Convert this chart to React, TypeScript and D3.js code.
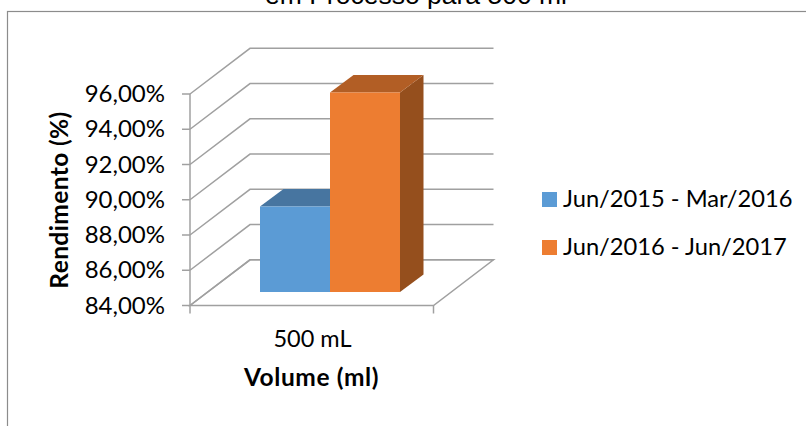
import React from "react";
import * as d3 from "d3";

const categories = ["500 mL"];
const seriesNames = ["Jun/2015 - Mar/2016", "Jun/2016 - Jun/2017"];
const seriesValues = [88.85, 95.32];
const frontColors = ["#5b9bd5", "#ed7d31"];
const topColors = ["#4775a0", "#b25e25"];
const sideColors = ["#3d658b", "#954f1d"];
const yTicks = [84, 86, 88, 90, 92, 94, 96];

const W = 806;
const H = 426;
const AXIS = "#a0a0a0";
const AXIS_W = 1.5;
const BODY_FONT = "Lato, 'Open Sans', sans-serif";

// Oblique projection: the floor recedes up and to the right.
const depth = { dx: 60, dy: -45.7 };
const y = d3.scaleLinear().domain([84, 96]).range([305.5, 94]);
const x = d3.scaleBand().domain(categories).range([190, 433.5]);
const groupX = d3
  .scaleBand()
  .domain(seriesNames)
  .range([x(categories[0])! + 70, x(categories[0])! + 210]);

// The bars stand partway into the floor's depth.
const barInset = { dx: 0, dy: -13.5 };
const barDepth = { dx: 23.5, dy: -17.5 };

const poly = (pts: [number, number][]) => d3.line()(pts)! + "Z";

export default function App() {
  const x0 = x.range()[0];
  const x1 = x.range()[1];
  const back = (v: number): [number, number][] => [
    [x0, y(v)],
    [x0 + depth.dx, y(v) + depth.dy],
    [x1 + depth.dx, y(v) + depth.dy],
  ];
  return (
    <svg
      width={W}
      height={H}
      style={{ position: "fixed", left: 0, top: 0, background: "#fff" }}
    >
      <text
        x={416}
        y={4}
        textAnchor="middle"
        fontFamily="'Liberation Sans', Arial, sans-serif"
        fontSize={26.5}
        fill="#000"
      >
        em Processo para 500 ml
      </text>
      {/* Chart frame runs past the right and bottom of the page */}
      <rect x={7.5} y={11.5} width={810} height={430} fill="none" stroke="#8c8c8c" strokeWidth={1.2} />

      {yTicks.map((t) => (
        <path key={t} d={d3.line()(back(t))!} fill="none" stroke={AXIS} strokeWidth={AXIS_W} />
      ))}
      <path
        d={poly([
          [x0, y(84)],
          [x1, y(84)],
          [x1 + depth.dx, y(84) + depth.dy],
          [x0 + depth.dx, y(84) + depth.dy],
        ])}
        fill="none"
        stroke={AXIS}
        strokeWidth={AXIS_W}
      />
      <line x1={x0} x2={x0} y1={y(96)} y2={y(84)} stroke={AXIS} strokeWidth={AXIS_W} />
      {yTicks.map((t) => (
        <g key={t}>
          <line x1={x0 - 8} x2={x0} y1={y(t)} y2={y(t)} stroke={AXIS} strokeWidth={AXIS_W} />
          <text
            x={165}
            y={y(t) + 8}
            textAnchor="end"
            fontFamily={BODY_FONT}
            fontSize={24}
            fill="#000"
          >
            {t.toFixed(2).replace(".", ",") + "%"}
          </text>
        </g>
      ))}
      <line x1={x0} x2={x0} y1={y(84)} y2={y(84) + 8} stroke={AXIS} strokeWidth={AXIS_W} />
      <line x1={x1} x2={x1} y1={y(84)} y2={y(84) + 8} stroke={AXIS} strokeWidth={AXIS_W} />

      {seriesNames.map((name, i) => {
        const left = groupX(name)!;
        const right = left + groupX.bandwidth();
        const yb = y(84) + barInset.dy;
        const yt = y(seriesValues[i]) + barInset.dy;
        const { dx, dy } = barDepth;
        return (
          <g key={name}>
            <path
              d={poly([
                [right, yb],
                [right + dx, yb + dy],
                [right + dx, yt + dy],
                [right, yt],
              ])}
              fill={sideColors[i]}
            />
            <path
              d={poly([
                [left, yt],
                [left + dx, yt + dy],
                [right + dx, yt + dy],
                [right, yt],
              ])}
              fill={topColors[i]}
            />
            <rect x={left} y={yt} width={right - left} height={yb - yt} fill={frontColors[i]} />
          </g>
        );
      })}

      <text
        x={312.5}
        y={347}
        textAnchor="middle"
        fontFamily={BODY_FONT}
        fontSize={23.5}
        fill="#000"
      >
        {categories[0]}
      </text>
      <text
        x={311.5}
        y={386}
        textAnchor="middle"
        fontFamily={BODY_FONT}
        fontSize={24.5}
        fontWeight={700}
        letterSpacing={0.6}
        fill="#000"
      >
        Volume (ml)
      </text>
      <text
        transform="translate(68,200) rotate(-90)"
        textAnchor="middle"
        fontFamily={BODY_FONT}
        fontSize={24.5}
        fontWeight={700}
        letterSpacing={0.4}
        fill="#000"
      >
        Rendimento (%)
      </text>

      {seriesNames.map((name, i) => (
        <g key={name}>
          <rect x={542} y={192 + i * 48} width={15} height={15} fill={frontColors[i]} />
          <text x={563} y={207 + i * 48} fontFamily={BODY_FONT} fontSize={23.7} fill="#000">
            {name}
          </text>
        </g>
      ))}
    </svg>
  );
}
